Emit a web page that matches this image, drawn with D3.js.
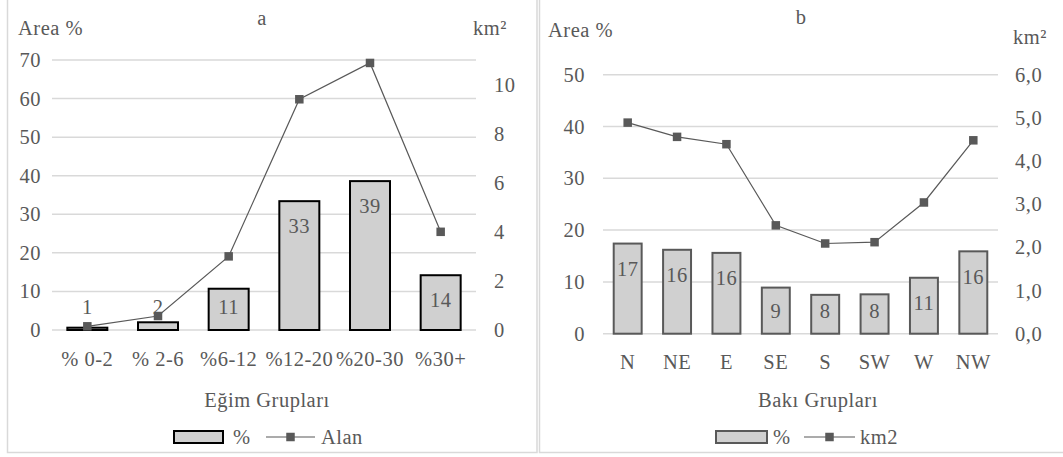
<!DOCTYPE html>
<html>
<head>
<meta charset="utf-8">
<script src="https://cdn.jsdelivr.net/npm/d3@7"></script>
<style>
  html, body { margin: 0; padding: 0; background: #fff; }
  svg { display: block; }
  text { font-family: "Liberation Serif", "Times New Roman", serif; fill: #595959; letter-spacing: 0.5px; }
</style>
</head>
<body>
<svg id="chart" width="1063" height="457"></svg>
<script>
// Slope groups (panel a)
const slopeCategories = ["% 0-2", "% 2-6", "%6-12", "%12-20", "%20-30", "%30+"];
const slopePercent = [0.6, 2.0, 10.7, 33.4, 38.6, 14.2];
const slopeArea = [0.15, 0.57, 3.0, 9.4, 10.88, 4.0];
const slopeLeftTicks = [0, 10, 20, 30, 40, 50, 60, 70];
const slopeRightTicks = [0, 2, 4, 6, 8, 10];

// Aspect groups (panel b)
const aspectCategories = ["N", "NE", "E", "SE", "S", "SW", "W", "NW"];
const aspectPercent = [17.4, 16.2, 15.6, 8.9, 7.5, 7.6, 10.8, 15.9];
const aspectArea = [4.89, 4.56, 4.39, 2.51, 2.09, 2.12, 3.04, 4.48];
const aspectLeftTicks = [0, 10, 20, 30, 40, 50];
const aspectRightTicks = [0, 1, 2, 3, 4, 5, 6];

const svg = d3.select("#chart");
const FONT = 20.5;
const TEXT = "#595959";
const GRID = "#d9d9d9";
const BAR_FILL = "#d0d0d0";

function drawPanel(cfg) {
  const g = svg.append("g");

  // frame
  g.append("rect")
    .attr("x", cfg.frame[0]).attr("y", cfg.frame[1])
    .attr("width", cfg.frame[2]).attr("height", cfg.frame[3])
    .attr("fill", "none").attr("stroke", GRID).attr("stroke-width", 1.5);

  const x = d3.scaleBand().domain(cfg.categories)
    .range([cfg.x0, cfg.x1]).paddingInner(0.434).paddingOuter(0.217);
  const yL = d3.scaleLinear().domain(cfg.leftDomain).range([cfg.base, cfg.top]);
  const yR = d3.scaleLinear().domain(cfg.rightDomain).range([cfg.base, cfg.top]);

  // gridlines
  g.append("g").selectAll("line").data(cfg.leftTicks).join("line")
    .attr("x1", cfg.x0).attr("x2", cfg.x1)
    .attr("y1", d => yL(d)).attr("y2", d => yL(d))
    .attr("stroke", GRID).attr("stroke-width", 1.5);

  // left axis labels
  const la = g.append("g").attr("transform", `translate(${cfg.x0},0)`)
    .call(d3.axisLeft(yL).tickValues(cfg.leftTicks).tickSize(0).tickPadding(cfg.leftPad));
  // right axis labels
  const ra = g.append("g").attr("transform", `translate(${cfg.x1},0)`)
    .call(d3.axisRight(yR).tickValues(cfg.rightTicks).tickSize(0)
      .tickPadding(cfg.rightPad).tickFormat(cfg.rightFormat));
  // category labels
  const xa = g.append("g").attr("transform", `translate(0,${cfg.base})`)
    .call(d3.axisBottom(x).tickSize(0));
  xa.selectAll("text").attr("y", cfg.catOffset).attr("dy", "0.35em");

  [la, ra, xa].forEach(a => {
    a.select(".domain").remove();
    a.selectAll("text").attr("font-size", FONT).attr("fill", TEXT);
    a.attr("font-family", null).attr("font-size", null);
  });

  // bars
  g.append("g").selectAll("rect").data(cfg.percent).join("rect")
    .attr("x", (d, i) => x(cfg.categories[i]))
    .attr("width", x.bandwidth())
    .attr("y", d => yL(d))
    .attr("height", d => cfg.base - yL(d))
    .attr("fill", BAR_FILL).attr("stroke", cfg.barStroke).attr("stroke-width", 2);

  // bar value labels
  g.append("g").selectAll("text").data(cfg.percent).join("text")
    .attr("x", (d, i) => x(cfg.categories[i]) + x.bandwidth() / 2)
    .attr("y", d => Math.min(yL(d) + 25, cfg.base - 23))
    .attr("dy", "0.35em").attr("text-anchor", "middle")
    .attr("font-size", FONT)
    .text(d => Math.round(d));

  // area line
  const cx = (d, i) => x(cfg.categories[i]) + x.bandwidth() / 2;
  const line = d3.line().x(cx).y(d => yR(d));
  g.append("path").datum(cfg.area).attr("d", line)
    .attr("fill", "none").attr("stroke", TEXT).attr("stroke-width", 1.2);
  const ms = 8.5;
  g.append("g").selectAll("rect").data(cfg.area).join("rect")
    .attr("x", (d, i) => cx(d, i) - ms / 2).attr("y", d => yR(d) - ms / 2)
    .attr("width", ms).attr("height", ms).attr("fill", TEXT);

  // titles
  g.append("text").attr("x", cfg.title[1]).attr("y", cfg.title[2])
    .attr("dy", "0.35em").attr("text-anchor", "middle").attr("font-size", FONT)
    .text(cfg.title[0]);
  g.append("text").attr("x", cfg.leftLabel[0]).attr("y", cfg.leftLabel[1])
    .attr("dy", "0.35em").attr("font-size", FONT).text("Area %");
  g.append("text").attr("x", cfg.rightLabel[0]).attr("y", cfg.rightLabel[1])
    .attr("dy", "0.35em").attr("font-size", FONT).text("km²");
  g.append("text").attr("x", cfg.axisTitle[1]).attr("y", cfg.axisTitle[2])
    .attr("dy", "0.35em").attr("text-anchor", "middle").attr("font-size", FONT)
    .text(cfg.axisTitle[0]);

  // legend
  const L = cfg.legend;
  g.append("rect").attr("x", L.sw0).attr("y", 431).attr("width", L.sw1 - L.sw0).attr("height", 12)
    .attr("fill", BAR_FILL).attr("stroke", cfg.barStroke).attr("stroke-width", 2);
  g.append("text").attr("x", L.pct).attr("y", 437).attr("dy", "0.35em")
    .attr("font-size", FONT).text("%");
  g.append("line").attr("x1", L.l0).attr("x2", L.l1).attr("y1", 437).attr("y2", 437)
    .attr("stroke", TEXT).attr("stroke-width", 1.2);
  g.append("rect").attr("x", (L.l0 + L.l1) / 2 - ms / 2).attr("y", 437 - ms / 2)
    .attr("width", ms).attr("height", ms).attr("fill", TEXT);
  g.append("text").attr("x", L.name).attr("y", 437).attr("dy", "0.35em")
    .attr("font-size", FONT).text(L.label);
}

drawPanel({
  frame: [7.5, -3, 529.5, 455.5],
  categories: slopeCategories, percent: slopePercent, area: slopeArea,
  leftTicks: slopeLeftTicks, rightTicks: slopeRightTicks,
  leftDomain: [0, 70], rightDomain: [0, 11],
  rightFormat: d3.format("d"),
  x0: 52, x1: 476, base: 330, top: 60,
  leftPad: 11, rightPad: 18, catOffset: 29,
  barStroke: "#000",
  title: ["a", 262, 18],
  leftLabel: [18, 28], rightLabel: [473, 28],
  axisTitle: ["Eğim Grupları", 267, 400],
  legend: { sw0: 174, sw1: 223, pct: 233, l0: 266, l1: 315, name: 321, label: "Alan" }
});

drawPanel({
  frame: [539.5, -3, 530, 455.5],
  categories: aspectCategories, percent: aspectPercent, area: aspectArea,
  leftTicks: aspectLeftTicks, rightTicks: aspectRightTicks,
  leftDomain: [0, 50], rightDomain: [0, 6],
  rightFormat: d => d3.format(".1f")(d).replace(".", ","),
  x0: 603, x1: 998, base: 333.7, top: 74.7,
  leftPad: 18, rightPad: 17, catOffset: 28,
  barStroke: "#595959",
  title: ["b", 801, 17],
  leftLabel: [548, 30], rightLabel: [1013, 37],
  axisTitle: ["Bakı Grupları", 818, 400],
  legend: { sw0: 716, sw1: 767, pct: 773, l0: 804, l1: 855, name: 860, label: "km2" }
});
</script>
</body>
</html>
